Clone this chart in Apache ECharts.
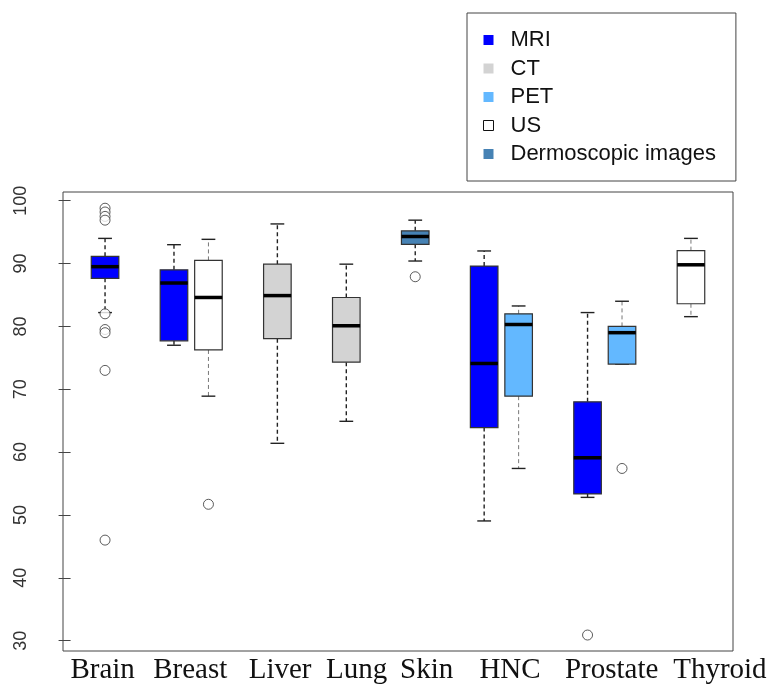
<!DOCTYPE html>
<html>
<head>
    <meta charset="utf-8">
    <title>Boxplot by organ and modality</title>
    <script src="https://cdn.jsdelivr.net/npm/echarts@6/dist/echarts.min.js"></script>
    <style>
        html, body { margin: 0; padding: 0; background: #fff; }
    </style>
</head>
<body>
<div id="chart" style="width: 774px; height: 684px;"></div>

<script>
    // organ labels and where they sit on the x scale
    var categories = ['Brain', 'Breast', 'Liver', 'Lung', 'Skin', 'HNC', 'Prostate', 'Thyroid'];
    var labelPos = [0.93, 3.47, 6.08, 8.3, 10.33, 12.75, 15.7, 18.84];
    var yTicks = [30, 40, 50, 60, 70, 80, 90, 100];

    // each box: [position, min, q1, median, q3, max]
    var mriBoxes = [
        [1, 82.2, 87.65, 89.5, 91.15, 94.0],
        [3, 77.0, 77.7, 86.9, 89.0, 93.0],
        [12, 49.05, 63.9, 74.1, 89.6, 92.0],
        [15, 52.8, 53.35, 59.1, 68.0, 82.2]
    ];
    var ctBoxes = [
        [6, 61.4, 78.05, 84.9, 89.9, 96.3],
        [8, 64.9, 74.3, 80.1, 84.6, 89.9]
    ];
    var petBoxes = [
        [13, 57.4, 68.9, 80.3, 82.0, 83.25],
        [16, 74.0, 74.0, 79.0, 80.0, 84.0]
    ];
    var usBoxes = [
        [4, 68.9, 76.25, 84.6, 90.5, 93.85],
        [18, 81.55, 83.6, 89.8, 92.05, 94.0]
    ];
    var dermBoxes = [
        [10, 90.4, 93.05, 94.3, 95.2, 96.9]
    ];
    // [position, value]
    var outliers = [
        [1, 98.8], [1, 98.2], [1, 97.5], [1, 96.9], [1, 82.0], [1, 79.5], [1, 79.0], [1, 73.0], [1, 46.0],
        [4, 51.7], [10, 87.9], [15, 30.9], [16, 57.4]
    ];

    var chart = echarts.init(document.getElementById('chart'));

    function makeRender(thinWhisker) {
        return function (params, api) {
            var x = api.value(0);
            var pMin = api.coord([x, api.value(1)]);
            var pQ1 = api.coord([x, api.value(2)]);
            var pMed = api.coord([x, api.value(3)]);
            var pQ3 = api.coord([x, api.value(4)]);
            var pMax = api.coord([x, api.value(5)]);
            var halfW = api.size([0.8, 0])[0] / 2;
            var capW = api.size([0.4, 0])[0] / 2;
            var cx = pMed[0];
            var wStroke = thinWhisker ? '#777' : '#222';
            var wWidth = thinWhisker ? 1 : 1.4;
            var dash = { stroke: wStroke, lineWidth: wWidth, lineDash: [4, 3] };
            var cap = { stroke: '#222', lineWidth: 1.4 };
            return {
                type: 'group',
                children: [
                    { type: 'line', shape: { x1: cx, y1: pQ3[1], x2: cx, y2: pMax[1] }, style: dash },
                    { type: 'line', shape: { x1: cx, y1: pQ1[1], x2: cx, y2: pMin[1] }, style: dash },
                    { type: 'line', shape: { x1: cx - capW, y1: pMax[1], x2: cx + capW, y2: pMax[1] }, style: cap },
                    { type: 'line', shape: { x1: cx - capW, y1: pMin[1], x2: cx + capW, y2: pMin[1] }, style: cap },
                    {
                        type: 'rect',
                        shape: { x: cx - halfW, y: pQ3[1], width: halfW * 2, height: pQ1[1] - pQ3[1] },
                        style: { fill: api.visual('color'), stroke: '#333', lineWidth: 1.2 }
                    },
                    { type: 'line', shape: { x1: cx - halfW, y1: pMed[1], x2: cx + halfW, y2: pMed[1] },
                      style: { stroke: '#000', lineWidth: 3.5 } }
                ]
            };
        };
    }

    function boxSeries(name, color, data, thin) {
        return {
            name: name,
            type: 'custom',
            renderItem: makeRender(thin),
            itemStyle: { color: color },
            encode: { x: 0, y: [1, 2, 3, 4, 5] },
            data: data
        };
    }

    var option = {
        animation: false,
        backgroundColor: '#fff',
        grid: {
            left: 63, top: 192, right: 41, bottom: 33,
            outerBoundsMode: 'none',
            containLabel: false,
            show: true, borderColor: '#444', borderWidth: 1, backgroundColor: 'transparent'
        },
        legend: {
            orient: 'vertical',
            left: 467,
            top: 13,
            padding: [16, 20, 16, 16],
            itemGap: 6.5,
            itemWidth: 10,
            itemHeight: 10,
            icon: 'rect',
            borderColor: '#444',
            borderWidth: 1,
            textStyle: {
                fontFamily: "'Liberation Sans', Arial, sans-serif",
                fontSize: 22,
                color: '#111',
                padding: [0, 0, 0, 12]
            },
            data: [
                { name: 'MRI' },
                { name: 'CT' },
                { name: 'PET' },
                { name: 'US', itemStyle: { color: '#fff', borderColor: '#111', borderWidth: 1 } },
                { name: 'Dermoscopic images' }
            ]
        },
        xAxis: {
            type: 'value',
            min: -0.22,
            max: 19.22,
            axisLine: { show: false },
            axisTick: { show: false },
            splitLine: { show: false },
            axisLabel: {
                customValues: labelPos,
                margin: 5,
                fontFamily: "'Liberation Serif', 'Times New Roman', serif",
                fontSize: 29,
                color: '#111',
                formatter: function (v) {
                    var i = labelPos.indexOf(v);
                    return i >= 0 ? categories[i] : '';
                }
            }
        },
        yAxis: {
            type: 'value',
            min: 28.36,
            max: 101.38,
            axisLine: { show: false },
            splitLine: { show: false },
            axisTick: {
                show: true,
                customValues: yTicks,
                length: 12,
                lineStyle: { color: '#444', width: 1 }
            },
            axisLabel: {
                customValues: yTicks,
                rotate: 90,
                margin: 33,
                fontFamily: "'Liberation Sans', Arial, sans-serif",
                fontSize: 18,
                color: '#333'
            }
        },
        series: [
            boxSeries('MRI', '#0000ff', mriBoxes, false),
            boxSeries('CT', '#d3d3d3', ctBoxes, false),
            boxSeries('PET', '#63b8ff', petBoxes, true),
            boxSeries('US', '#ffffff', usBoxes, true),
            boxSeries('Dermoscopic images', '#4682b4', dermBoxes, false),
            {
                name: 'outliers',
                type: 'scatter',
                symbol: 'circle',
                symbolSize: 10,
                itemStyle: { color: '#fff', borderColor: '#333', borderWidth: 1 },
                data: outliers,
                z: 3
            }
        ]
    };

    chart.setOption(option);
</script>
</body>
</html>
